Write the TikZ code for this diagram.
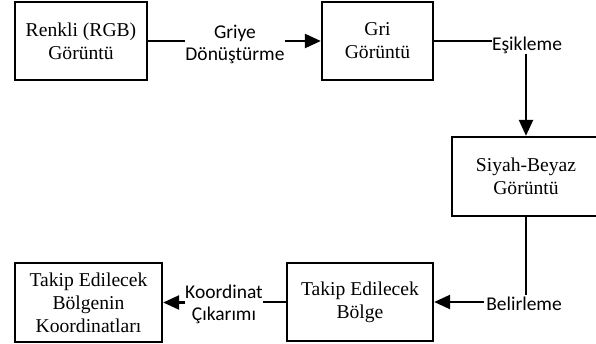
\documentclass[tikz,border=0pt]{standalone}
\usepackage{fontspec}
\setmainfont{Liberation Serif}
\newfontfamily\labfont{Carlito}
\usetikzlibrary{arrows.meta}
\begin{document}
\begin{tikzpicture}[x=1pt,y=-1pt,
  box/.style={draw, line width=2.3pt, align=center, inner sep=0pt,
    font=\fontsize{19.6}{23}\selectfont},
  lab/.style={align=center, inner sep=0pt, font=\labfont\fontsize{19.5}{22}\selectfont},
  conn/.style={line width=2.3pt},
  arr/.style={line width=2.3pt, -{Triangle[length=16pt,width=14pt]}}]
\useasboundingbox (0,0) rectangle (596,344);
\clip (0,0) rectangle (596,344);
\node[box, minimum width=132pt, minimum height=78pt] (b1) at (81,41) {Renkli (RGB)\\Görüntü};
\node[box, minimum width=111pt, minimum height=78pt] (b2) at (377.5,41) {Gri\\Görüntü};
\node[box, minimum width=148pt, minimum height=79pt] (b3) at (526,176.5) {Siyah-Beyaz\\Görüntü};
\node[box, minimum width=147pt, minimum height=79pt] (b4) at (88.5,302.5) {Takip Edilecek\\Bölgenin\\Koordinatları};
\node[box, minimum width=146pt, minimum height=78pt] (b5) at (360,302) {Takip Edilecek\\Bölge};
\node[lab] (l1) at (235,44) {Griye\\Dönüştürme};
\node[lab] (l2) at (527,45) {Eşikleme};
\node[lab, inner sep=2pt] (l3) at (524,304) {Belirleme};
\node[lab] (l4) at (224,304.5) {Koordinat\\Çıkarımı};
\draw[conn] (b1.east) -- (l1.west |- b1.east);
\draw[arr] (l1.east |- b1.east) -- (b2.west);
\draw[conn] (b2.east) -- (l2.west |- b2.east);
\draw[arr] (b3.north |- l2.south) -- (b3.north);
\draw[conn] (b3.south) -- (b3.south |- l3.north);
\draw[arr] (l3.west |- b5.east) -- (b5.east);
\draw[conn] (b5.west) -- (l4.east |- b5.west);
\draw[arr] (l4.west |- b4.east) -- (b4.east);
\end{tikzpicture}
\end{document}
